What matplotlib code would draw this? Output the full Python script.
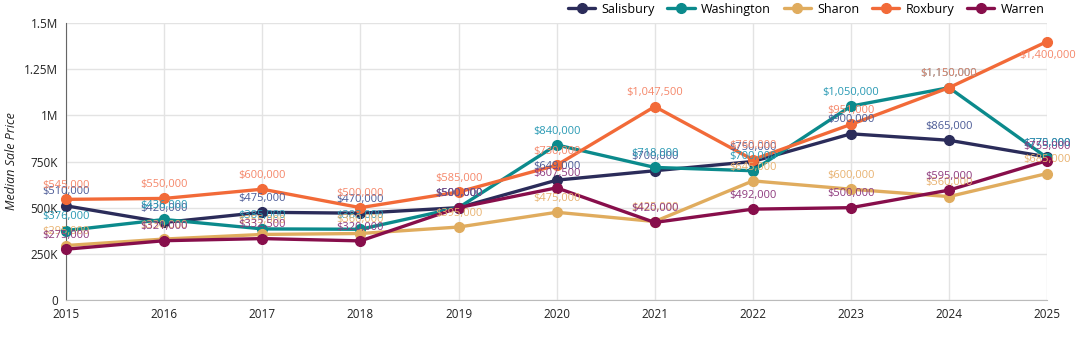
import matplotlib.pyplot as plt
from matplotlib.ticker import FuncFormatter

years = [2015, 2016, 2017, 2018, 2019, 2020, 2021, 2022, 2023, 2024, 2025]

salisbury = [510000, 420000, 475000, 470000, 500000, 649000, 700000, 750000, 900000, 865000, 775000]
washington = [376000, 436000, 385000, 383000, 500000, 840000, 718000, 700000, 1050000, 1150000, 770000]
sharon = [295000, 330000, 355000, 360000, 395000, 475000, 425000, 645000, 600000, 560000, 685000]
roxbury = [545000, 550000, 600000, 500000, 585000, 730000, 1047500, 760000, 951000, 1150000, 1400000]
warren = [275000, 321000, 332500, 320000, 500000, 607500, 420000, 492000, 500000, 595000, 755000]

series = [
    ("Salisbury", salisbury, "#2b2c5a", "#4b5a96"),
    ("Washington", washington, "#0b8a8c", "#2a9ab4"),
    ("Sharon", sharon, "#e0ac5e", "#e8b270"),
    ("Roxbury", roxbury, "#f26a38", "#f5876a"),
    ("Warren", warren, "#870e4b", "#8e3a7e"),
]

plt.rcParams["font.family"] = ["Open Sans", "DejaVu Sans"]
fig = plt.figure(figsize=(10.84, 3.44), dpi=100)
ax = fig.add_axes([0.061, 0.128, 0.905, 0.805])

for name, vals, color, label_color in series:
    ax.plot(years, vals, color=color, lw=2.4, marker="o", ms=7, label=name,
            solid_capstyle="round", clip_on=False, zorder=3)
    for i, (x, y) in enumerate(zip(years, vals)):
        # last Roxbury point sits at the top, so its label goes underneath
        if name == "Roxbury" and i == len(years) - 1:
            off = (0, -14)
        else:
            off = (0, 6)
        ax.annotate(f"${y:,.0f}", (x, y), xytext=off, textcoords="offset points",
                    ha="center", va="bottom", fontsize=8, color=label_color,
                    annotation_clip=False, zorder=4)

ax.set_xlim(2015, 2025)
ax.set_ylim(0, 1500000)
ax.set_xticks(years)
ax.set_yticks([0, 250000, 500000, 750000, 1000000, 1250000, 1500000])


def fmt(v, pos):
    if v == 0:
        return "0"
    if v >= 1000000:
        return f"{v / 1e6:g}M"
    return f"{v / 1e3:g}K"


ax.yaxis.set_major_formatter(FuncFormatter(fmt))
ax.tick_params(length=0, labelsize=8.5, colors="#222222", pad=6)
ax.grid(True, color="#e3e3e3", lw=1)
ax.set_axisbelow(True)
for s in ["top", "right"]:
    ax.spines[s].set_visible(False)
ax.spines["left"].set_color("#666666")
ax.spines["bottom"].set_color("#bbbbbb")
ax.set_ylabel("Median Sale Price", fontsize=9, style="italic", color="#222222", labelpad=4)

ax.legend(loc="lower right", bbox_to_anchor=(1.005, 1.0), ncol=5, frameon=False,
          fontsize=9, handlelength=2.2, columnspacing=1.0, handletextpad=0.5,
          borderaxespad=0.2)

fig.savefig("out.png", dpi=100)
